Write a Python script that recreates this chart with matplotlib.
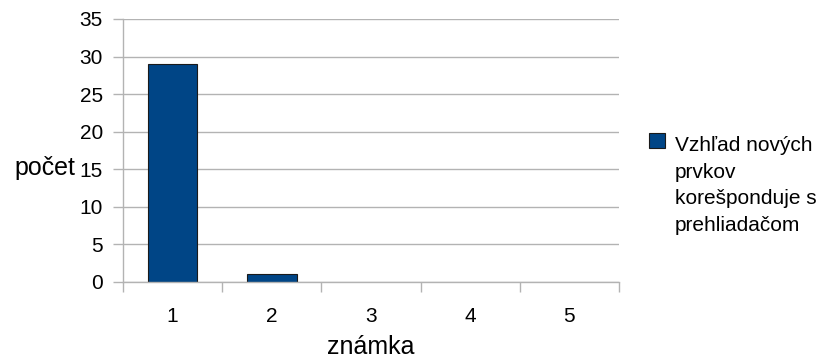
import matplotlib
matplotlib.use("Agg")
import matplotlib.pyplot as plt
from matplotlib.patches import Rectangle

plt.rcParams['font.family'] = ['Liberation Sans', 'DejaVu Sans']

# hodnotenie (známka) a počet odpovedí
znamky = ['1', '2', '3', '4', '5']
pocty = [29, 1, 0, 0, 0]
seria = 'Vzhľad nových\nprvkov\nkorešponduje s\nprehliadačom'

farba = '#004586'
siva = '#b3b3b3'

fig = plt.figure(figsize=(8.3, 3.59), dpi=100)
ax = fig.add_axes([0.1482, 0.2145, 0.5976, 0.7326])

x = list(range(1, len(znamky) + 1))
bary = ax.bar(x, pocty, width=0.5, color=farba, edgecolor='#1a1a1a',
              linewidth=0.8, zorder=2)
# nulové stĺpce by inak kreslili tmavú čiaru na osi
for b in bary:
    if b.get_height() == 0:
        b.set_visible(False)

ax.set_xlim(0.5, len(znamky) + 0.5)
ax.set_ylim(0, 35)
ax.set_yticks(range(0, 36, 5))
ax.grid(axis='y', color=siva, linewidth=1, zorder=1)

# hranice kategórií ako hlavné značky, popisy na vedľajších
ax.set_xticks([i + 0.5 for i in range(len(znamky) + 1)])
ax.set_xticklabels([])
ax.set_xticks(x, minor=True)
ax.set_xticklabels(znamky, minor=True)
ax.tick_params(axis='x', which='major', length=7.5, width=1, color=siva)
ax.tick_params(axis='x', which='minor', length=0, pad=18, labelsize=15)
ax.tick_params(axis='y', length=7.5, width=1, color=siva, pad=7, labelsize=15)

for s in ['top', 'right']:
    ax.spines[s].set_visible(False)
for s in ['left', 'bottom']:
    ax.spines[s].set_color(siva)
    ax.spines[s].set_linewidth(1)
    ax.spines[s].set_zorder(2.5)

ax.set_ylabel('počet', fontsize=18, rotation=0, ha='right', va='center')
ax.yaxis.set_label_coords(-0.097, 0.435)
ax.set_xlabel('známka', fontsize=18, va='center')
ax.xaxis.set_label_coords(0.5, -0.247)

# legenda: štvorček vľavo hore, text zalomený do štyroch riadkov
W, H = 830, 359
fig.patches.append(Rectangle((649 / W, 1 - 148 / H), 16 / W, 15 / H,
                             transform=fig.transFigure, facecolor=farba,
                             edgecolor='#1a1a1a', linewidth=0.8))
fig.text(675 / W, 1 - 136 / H, seria, fontsize=15, ha='left', va='top',
         linespacing=1.5)

fig.savefig('out.png', dpi=100)
